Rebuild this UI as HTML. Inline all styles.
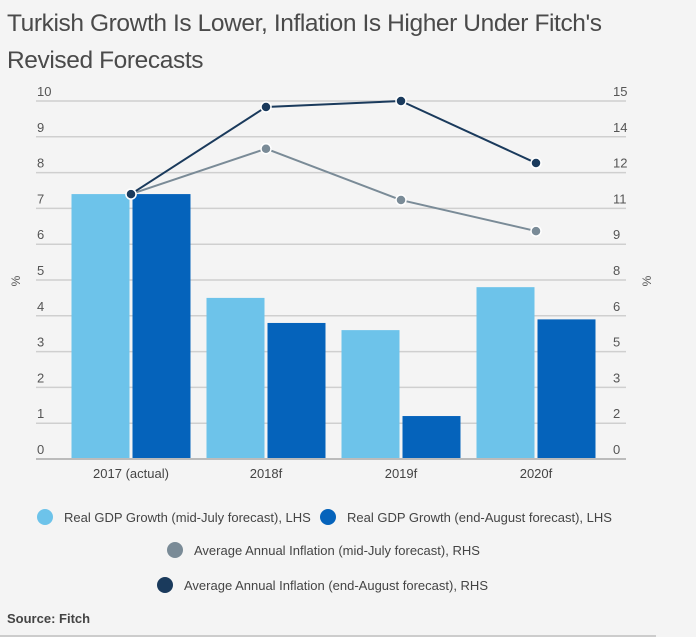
<!DOCTYPE html>
<html><head><meta charset="utf-8"><style>
body{margin:0;background:#f4f4f4;font-family:"Liberation Sans",sans-serif;}
#wrap{position:relative;width:696px;height:637px;background:#f4f4f4;overflow:hidden}
h1{position:absolute;left:7px;top:5px;margin:0;font-weight:normal;font-size:24.5px;line-height:37px;color:#4a4a4a;letter-spacing:-0.4px}
svg text{font-family:"Liberation Sans",sans-serif}
</style></head><body>
<div id="wrap">
<h1>Turkish Growth Is Lower, Inflation Is Higher Under Fitch's<br>Revised Forecasts</h1>
<svg id="chart" width="696" height="637" style="position:absolute;left:0;top:0"></svg>
</div>
<script>
const categories=["2017 (actual)","2018f","2019f","2020f"];
const gdpJuly=[7.4,4.5,3.6,4.8];
const gdpAug=[7.4,3.8,1.2,3.9];
const inflJuly=[11.1,13.0,10.85,9.55];
const inflAug=[11.1,14.75,15.0,12.4];
const leftTicks=[0,1,2,3,4,5,6,7,8,9,10];
const rightTickLabels=["0","2","3","5","6","8","9","11","12","14","15"];
const legendLabels=["Real GDP Growth (mid-July forecast), LHS","Real GDP Growth (end-August forecast), LHS","Average Annual Inflation (mid-July forecast), RHS","Average Annual Inflation (end-August forecast), RHS"];

const NS="http://www.w3.org/2000/svg";
const svg=document.getElementById('chart');
function mk(t,a,p){const e=document.createElementNS(NS,t);for(const k in a)e.setAttribute(k,a[k]);(p||svg).appendChild(e);return e;}
const y0=459,y1=101,xL=36,xR=626,bandStart=63.5,band=135;
const yL=v=>y0+(y1-y0)*v/10;
const yR=v=>y0+(y1-y0)*v/15;
const xc=i=>bandStart+band*(i+0.5);
const cLight="#6dc3ea",cDark="#0563bb",cGray="#7a8b97",cNavy="#1a3a5c";

leftTicks.forEach((t,i)=>{
 const y=yL(t);
 const g=mk('line',{x1:xL,x2:xR,y1:y,y2:y,stroke:i==0?'#bbb':'#cfcfcf','stroke-width':i==0?2:1.5});
 
 const l=mk('text',{x:37,y:y-5,'font-size':13,fill:'#555'});l.textContent=t;
 
 const r=mk('text',{x:613,y:y-5,'font-size':13,fill:'#555'});r.textContent=rightTickLabels[i];
 
});
[[20,"left-axis-title"],[651,"right-axis-title"]].forEach(([x,n])=>{
 const t=mk('text',{x:x,y:281,'font-size':12,fill:'#555',transform:`rotate(-90 ${x} 281)`,'text-anchor':'middle'});t.textContent='%';
 
});
const bw=58;
categories.forEach((c,i)=>{
 const x=xc(i);
 const b1=mk('rect',{x:x-bw-1.5,y:yL(gdpJuly[i]),width:bw,height:y0-yL(gdpJuly[i]),fill:cLight});
 
 const b2=mk('rect',{x:x+1.5,y:yL(gdpAug[i]),width:bw,height:y0-yL(gdpAug[i]),fill:cDark});
 
 const t=mk('text',{x:x,y:478,'font-size':13,fill:'#444','text-anchor':'middle'});t.textContent=c;
 
});
mk('line',{x1:xL,x2:xR,y1:y0,y2:y0,stroke:'#bbb','stroke-width':2});
[[inflJuly,cGray,'inflation-july'],[inflAug,cNavy,'inflation-august']].forEach(([d,col,n])=>{
 const p=mk('polyline',{points:d.map((v,i)=>xc(i)+','+yR(v)).join(' '),fill:'none',stroke:col,'stroke-width':2});
 
 d.forEach((v,i)=>{const c=mk('circle',{cx:xc(i),cy:yR(v),r:5,fill:col,stroke:'#fff','stroke-width':1.5});
 });
});
[[45,517,cLight],[328,517,cDark],[175,550,cGray],[165,585,cNavy]].forEach(([x,y,col],i)=>{
 const c=mk('circle',{cx:x,cy:y,r:8,fill:col});
 
 const t=mk('text',{x:x+19,y:y+5,'font-size':13,fill:'#444'});t.textContent=legendLabels[i];
 
});
const s=mk('text',{x:7,y:623,'font-size':13,'font-weight':'bold',fill:'#444'});s.textContent='Source: Fitch';

mk('line',{x1:0,x2:656,y1:636,y2:636,stroke:'#ccc','stroke-width':2});
</script>
</body></html>
